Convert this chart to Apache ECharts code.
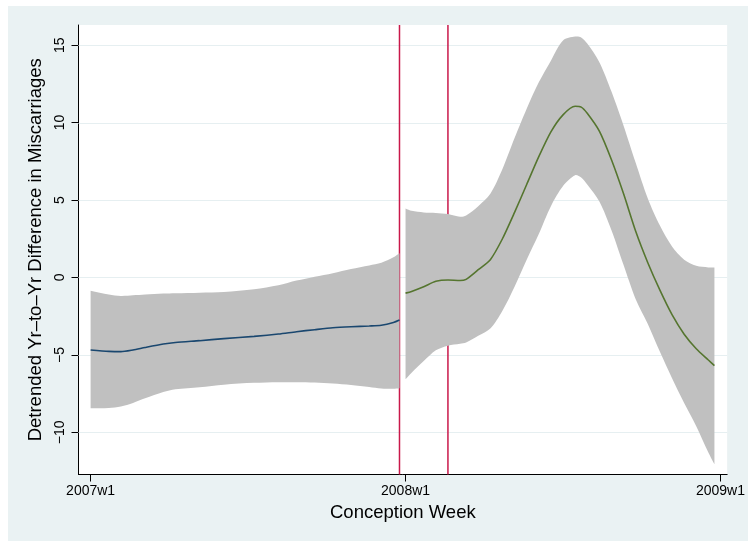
<!DOCTYPE html>
<html>
<head>
<meta charset="utf-8">
<script src="https://cdn.jsdelivr.net/npm/echarts@6/dist/echarts.min.js"></script>
<style>
html,body{margin:0;padding:0;background:#fff;}
#c{width:748px;height:541px;}
</style>
</head>
<body>
<div id="c"></div>
<script>
// ---- data (week index: 0 = 2007w1, 52 = 2008w1, 104 = 2009w1) ----
var xTickWeeks = [0, 52, 104];
var xTickLabels = ['2007w1', '2008w1', '2009w1'];
var yTicks = [-10, -5, 0, 5, 10, 15];
var eventWeeks = [51, 59];

var weeks2007 = [0, 3, 5, 7, 9, 12, 14, 18, 22, 27, 31, 34, 37, 40, 43, 46, 48, 50, 51];
var fit2007   = [-4.68, -4.77, -4.79, -4.68, -4.52, -4.3, -4.2, -4.08, -3.95, -3.8, -3.65, -3.5, -3.37, -3.25, -3.18, -3.13, -3.08, -2.9, -2.74];
var upper2007 = [-0.85, -1.1, -1.19, -1.15, -1.1, -1.04, -1.02, -0.98, -0.94, -0.76, -0.5, -0.2, 0.05, 0.28, 0.55, 0.78, 0.95, 1.3, 1.56];
var lower2007 = [-8.44, -8.42, -8.33, -8.1, -7.8, -7.4, -7.22, -7.09, -6.92, -6.8, -6.76, -6.76, -6.78, -6.85, -6.94, -7.07, -7.17, -7.19, -7.15];

var weeks2008 = [52, 53, 55, 57, 59, 61, 62, 64, 66, 68, 70, 72, 74, 76, 78, 80, 81, 82, 84, 86, 88, 90, 92, 94, 96, 98, 100, 102, 103];
var fit2008   = [-1.01, -0.9, -0.6, -0.25, -0.16, -0.2, -0.12, 0.5, 1.15, 2.5, 4.2, 6.0, 7.8, 9.4, 10.5, 11.05, 11.0, 10.6, 9.45, 7.6, 5.4, 2.98, 0.95, -0.82, -2.4, -3.66, -4.6, -5.33, -5.69];
var upper2008 = [4.46, 4.3, 4.2, 4.17, 4.1, 3.92, 4.0, 4.6, 5.4, 7.0, 9.0, 10.9, 12.6, 14.0, 15.3, 15.55, 15.5, 15.1, 13.9, 12.0, 9.8, 7.4, 5.1, 3.35, 2.0, 1.15, 0.75, 0.65, 0.65];
var lower2008 = [-6.57, -6.15, -5.4, -4.7, -4.4, -4.28, -4.2, -3.77, -3.3, -2.15, -0.6, 1.15, 2.8, 4.6, 5.9, 6.6, 6.45, 6.0, 4.9, 3.05, 0.8, -1.4, -3.0, -4.8, -6.5, -8.1, -9.6, -11.3, -12.06];

// ---- layout constants ----
var X_MIN = -2, X_MAX = 105.1, Y_MIN = -12.72, Y_MAX = 16.3;
var FONT = 'Liberation Sans, Arial, Helvetica, sans-serif';
var BAND = '#C0C0C0';
var SM = 0.25;

function pairs(xs, ys) { return xs.map(function (x, i) { return [x, ys[i]]; }); }

var bands = [
  { weeks: weeks2007, upper: upper2007, lower: lower2007 },
  { weeks: weeks2008, upper: upper2008, lower: lower2008 }
];

function renderBand(params, api) {
  var b = bands[params.dataIndex];
  var up = [], lo = [];
  for (var i = 0; i < b.weeks.length; i++) {
    up.push(api.coord([b.weeks[i], b.upper[i]]));
    lo.push(api.coord([b.weeks[i], b.lower[i]]));
  }
  lo.reverse();
  var pts = [up[0]].concat(up).concat([up[up.length - 1], lo[0]]).concat(lo).concat([lo[lo.length - 1]]);
  return {
    type: 'polygon',
    shape: { points: pts, smooth: 0.3 },
    style: { fill: BAND, stroke: null }
  };
}

function renderGrid(params, api) {
  var v = yTicks[params.dataIndex];
  var a = api.coord([X_MIN, v]), b = api.coord([X_MAX, v]);
  return {
    type: 'line',
    shape: { x1: a[0], y1: Math.round(a[1]) + 0.5, x2: b[0], y2: Math.round(b[1]) + 0.5 },
    style: { stroke: '#E6EFF1', lineWidth: 1 }
  };
}

function renderEvent(params, api) {
  var w = eventWeeks[params.dataIndex];
  var a = api.coord([w, Y_MIN]), b = api.coord([w, Y_MAX]);
  return {
    type: 'line',
    shape: { x1: a[0], y1: a[1], x2: b[0], y2: b[1] },
    style: { stroke: '#C9184A', lineWidth: 1.5 }
  };
}

var chart = echarts.init(document.getElementById('c'), null, { renderer: 'canvas' });

var series = [
  { type: 'custom', renderItem: renderGrid, data: yTicks.map(function (v, i) { return [X_MIN, v]; }), z: 1, silent: true },
  { type: 'custom', renderItem: renderEvent, data: eventWeeks.map(function (w) { return [w, 0]; }), z: 2, silent: true },
  { type: 'custom', renderItem: renderBand, data: [[0, 0], [52, 0]], z: 3, silent: true },
  {
    type: 'line', data: pairs(weeks2007, fit2007), smooth: SM, symbol: 'none',
    lineStyle: { color: '#1A476F', width: 1.6 }, z: 5, silent: true
  },
  {
    type: 'line', data: pairs(weeks2008, fit2008), smooth: SM, symbol: 'none',
    lineStyle: { color: '#55752F', width: 1.6 }, z: 5, silent: true
  }
];

chart.setOption({
  animation: false,
  backgroundColor: 'transparent',
  textStyle: { fontFamily: FONT },
  graphic: [{
    type: 'rect', left: 8, top: 6, z: -10, silent: true,
    shape: { width: 740, height: 535 },
    style: { fill: '#EAF2F3' }
  }],
  grid: {
    left: 78.5, top: 25, right: 17.5, bottom: 66.5,
    show: true, backgroundColor: '#FFFFFF', borderWidth: 0
  },
  xAxis: {
    type: 'value', min: X_MIN, max: X_MAX,
    name: 'Conception Week', nameLocation: 'middle', nameGap: 23,
    nameTextStyle: { fontSize: 18.5, color: '#000', fontFamily: FONT, verticalAlign: 'top' },
    axisLine: { show: true, onZero: false, lineStyle: { color: '#000', width: 1 } },
    axisTick: { show: true, length: 7, customValues: xTickWeeks, lineStyle: { color: '#000' } },
    axisLabel: {
      show: true, margin: 10, fontSize: 14, color: '#000', fontFamily: FONT,
      customValues: xTickWeeks,
      formatter: function (v) { var i = xTickWeeks.indexOf(v); return i >= 0 ? xTickLabels[i] : ''; }
    },
    splitLine: { show: false }
  },
  yAxis: {
    type: 'value', min: Y_MIN, max: Y_MAX,
    name: 'Detrended Yr\u2013to\u2013Yr Difference in Miscarriages',
    nameLocation: 'middle', nameGap: 27, nameRotate: 90,
    nameTextStyle: { fontSize: 18.5, color: '#000', fontFamily: FONT },
    axisLine: { show: true, onZero: false, lineStyle: { color: '#000', width: 1 } },
    axisTick: { show: true, length: 7, customValues: yTicks, lineStyle: { color: '#000' } },
    axisLabel: {
      show: true, margin: 11, rotate: 90, fontSize: 14, color: '#000', fontFamily: FONT,
      customValues: yTicks,
      formatter: function (v) { return String(v).replace('-', '\u2212'); }
    },
    splitLine: { show: false }
  },
  series: series
});
</script>
</body>
</html>
